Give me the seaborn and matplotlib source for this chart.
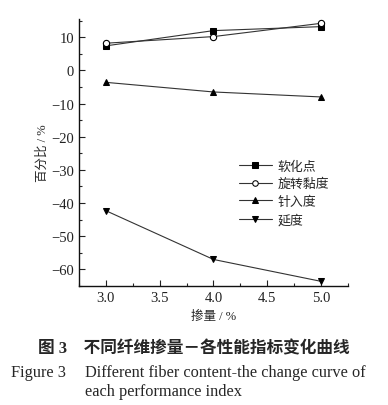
import matplotlib
matplotlib.use("Agg")
import matplotlib.pyplot as plt
from matplotlib.ticker import MultipleLocator, FormatStrFormatter, FuncFormatter
import seaborn as sns
import pandas as pd

x_vals = [3.0, 4.0, 5.0]
softening = [7.4, 12.0, 13.2]
viscosity = [8.2, 10.2, 14.2]
penetration = [-3.6, -6.5, -8.0]
ductility = [-42.3, -57.0, -63.6]
series_names = ["软化点", "旋转黏度", "针入度", "延度"]

sns.set_theme(style="ticks")
plt.rcParams['font.family'] = ['Liberation Serif', 'Noto Sans CJK SC']
plt.rcParams['xtick.direction'] = 'in'
plt.rcParams['ytick.direction'] = 'in'

rows = []
for name, vals in zip(series_names, [softening, viscosity, penetration, ductility]):
    for xv, yv in zip(x_vals, vals):
        rows.append({"x": xv, "y": yv, "s": name})
df = pd.DataFrame(rows)

fig = plt.figure(figsize=(3.88, 4.06), dpi=100)
ax = fig.add_axes([79/388, 1-287/406, (348-79)/388, (287-20)/406])

markers = {"软化点": "s", "旋转黏度": "o", "针入度": "^", "延度": "v"}
palette = {n: "#333333" for n in series_names}
sns.lineplot(data=df, x="x", y="y", hue="s", style="s", hue_order=series_names,
             style_order=series_names, markers=markers, dashes=False,
             palette=palette, linewidth=0.8, markersize=4.5, ax=ax, legend=True)

for line in ax.lines:
    if line.get_marker() == "o":
        line.set_markerfacecolor("white")
        line.set_markeredgecolor("black")
        line.set_markeredgewidth(0.8)
    else:
        line.set_markerfacecolor("black")
        line.set_markeredgecolor("black")

ax.set_xlim(2.75, 5.25)
ax.set_ylim(-65, 15.5)
ax.xaxis.set_major_locator(MultipleLocator(0.5))
ax.xaxis.set_minor_locator(MultipleLocator(0.25))
ax.yaxis.set_major_locator(MultipleLocator(10))
ax.yaxis.set_minor_locator(MultipleLocator(5))
ax.tick_params(which='major', length=4, width=0.8, labelsize=10.5, colors='#222222')
ax.tick_params(which='minor', length=2.5, width=0.8)
ax.xaxis.set_major_formatter(FormatStrFormatter('%.1f'))
ax.yaxis.set_major_formatter(FuncFormatter(lambda v, p: f"{int(round(v))}".replace('-', '−')))
for s in ["top", "right"]:
    ax.spines[s].set_visible(False)
for s in ["left", "bottom"]:
    ax.spines[s].set_linewidth(1.0)
    ax.spines[s].set_color('#111111')

ax.set_xlabel("掺量 / %", fontsize=9, labelpad=4)
ax.set_ylabel("百分比 / %", fontsize=9, labelpad=2)

handles = ax.get_legend().legend_handles
leg = ax.legend(handles=handles, labels=series_names, loc='upper left',
                bbox_to_anchor=(0.56, 0.505),
                frameon=False, fontsize=9.3, handlelength=2.6, handletextpad=0.4,
                labelspacing=0.42, borderpad=0.2)
for h in leg.legend_handles:
    h.set_color("#333333")
    h.set_linewidth(0.8)
    h.set_markersize(4)
    h.set_markeredgecolor("black")
    if h.get_marker() == "o":
        h.set_markerfacecolor("white")
    else:
        h.set_markerfacecolor("black")

fig.text(0.5, 1-349/406, "图 3    不同纤维掺量－各性能指标变化曲线", ha='center', va='center',
         fontsize=12, fontweight='bold', family=['Liberation Serif', 'Noto Sans CJK SC'])
fig.text(11/388, 1-373/406, "Figure 3", ha='left', va='center', fontsize=11.8,
         family=['Liberation Serif'])
fig.text(85/388, 1-373/406, "Different fiber content-the change curve of", ha='left', va='center',
         fontsize=11.8, family=['Liberation Serif'])
fig.text(85/388, 1-392/406, "each performance index", ha='left', va='center',
         fontsize=11.8, family=['Liberation Serif'])

fig.savefig("out.png", dpi=100)
